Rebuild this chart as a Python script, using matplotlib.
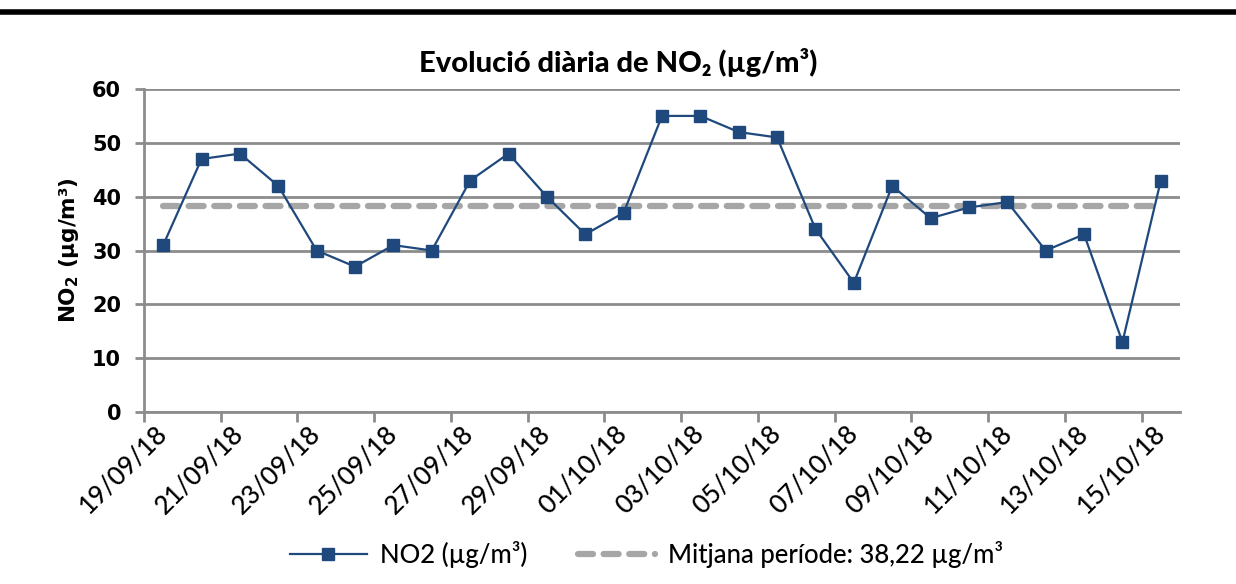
import matplotlib
matplotlib.use("Agg")
import matplotlib.pyplot as plt
from matplotlib.lines import Line2D
import numpy as np

# daily categories (19/09/18 .. 15/10/18)
dates = ["19/09/18", "20/09/18", "21/09/18", "22/09/18", "23/09/18", "24/09/18",
         "25/09/18", "26/09/18", "27/09/18", "28/09/18", "29/09/18", "30/09/18",
         "01/10/18", "02/10/18", "03/10/18", "04/10/18", "05/10/18", "06/10/18",
         "07/10/18", "08/10/18", "09/10/18", "10/10/18", "11/10/18", "12/10/18",
         "13/10/18", "14/10/18", "15/10/18"]
no2 = [31, 47, 48, 42, 30, 27, 31, 30, 43, 48, 40, 33, 37, 55, 55, 52, 51,
       34, 24, 42, 36, 38, 39, 30, 33, 13, 43]
mean_value = 38.22

BLUE = "#1F497D"
GRID = "#8C8C8C"
DASH = "#A6A6A6"
CAL = ["Lato", "DejaVu Sans"]

fig = plt.figure(figsize=(12.36, 5.84), dpi=100)
ax = fig.add_axes([0.1165, 0.2945, 0.8382, 0.5531])

x = np.arange(len(dates))
ax.plot(x, [mean_value] * len(x), color=DASH, lw=4.5, ls=(0, (2.4, 1.7)),
        dash_capstyle="round", solid_capstyle="round",
        label="Mitjana període: 38,22 µg/m³", zorder=2)
ax.plot(x, no2, color=BLUE, lw=1.6, marker="s", ms=8, mec=BLUE, mfc=BLUE,
        label="NO2 (µg/m³)", zorder=3)

ax.set_xlim(-0.5, len(dates) - 0.5)
ax.set_ylim(0, 60)
ax.set_yticks(range(0, 61, 10))
ax.yaxis.grid(True, color=GRID, lw=2)
ax.set_axisbelow(True)

# tick marks on category boundaries, labels on every second day
ax.set_xticks(np.arange(-0.5, len(dates) - 1, 2), minor=True)
ax.set_xticks(x[::2])
ax.set_xticklabels(dates[::2], rotation=45, ha="right", va="center",
                   rotation_mode="anchor", fontsize=18.5, family=CAL, weight="medium")
ax.tick_params(axis="x", which="major", length=0, pad=13)
ax.tick_params(axis="x", which="minor", length=7, width=2, color=GRID)
ax.tick_params(axis="y", length=6.5, width=2, color=GRID, pad=10)
for lab in ax.get_yticklabels():
    lab.set_fontweight("bold")
    lab.set_fontsize(15)

for s in ["top", "right"]:
    ax.spines[s].set_visible(False)
for s in ["left", "bottom"]:
    ax.spines[s].set_color(GRID)
    ax.spines[s].set_linewidth(2)

ax.set_ylabel("NO$_\\mathbf{2}$ (µg/m³)", fontsize=15.5, fontweight="bold", labelpad=8)

fig.text(0.5, 0.893, "Evolució diària de NO₂ (µg/m³)", ha="center", va="center",
         fontsize=21, fontweight="black", family=CAL)

handles, labels = ax.get_legend_handles_labels()
leg = fig.legend(handles[::-1], labels[::-1], loc="center", bbox_to_anchor=(0.523, 0.05),
                 ncol=2, frameon=False, prop={"family": CAL, "size": 18.5, "weight": "medium"},
                 handlelength=3.0, handletextpad=0.5, columnspacing=2.0)

# thick black rule across the top
fig.add_artist(Line2D([0, 1], [0.979, 0.979], transform=fig.transFigure,
                      color="black", lw=4))

plt.savefig("out.png", dpi=100)
